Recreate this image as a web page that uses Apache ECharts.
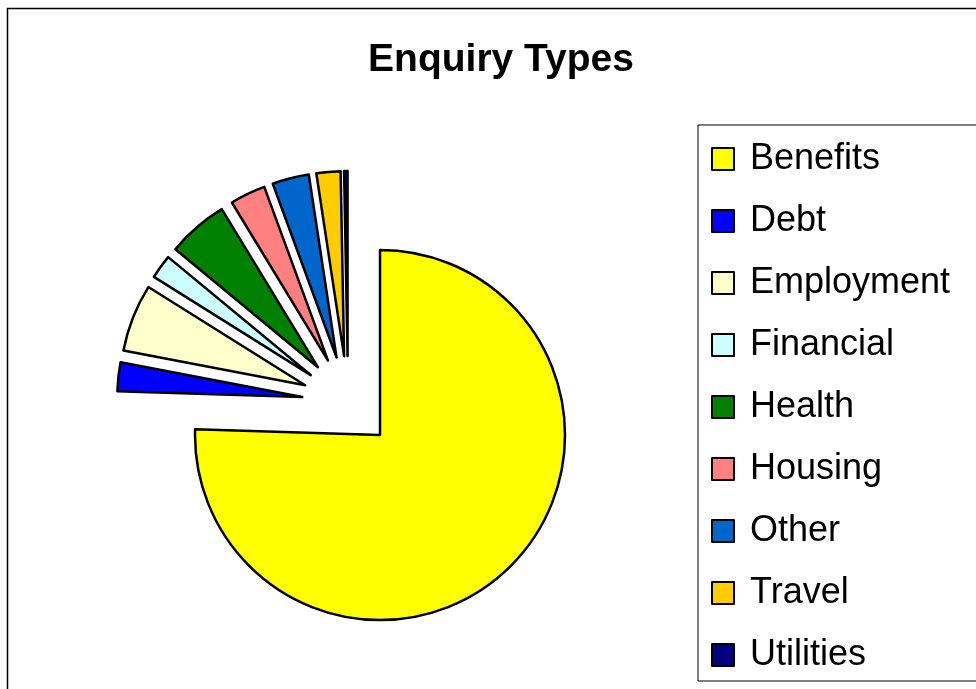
<!DOCTYPE html>
<html>
<head>
<meta charset="utf-8">
<title>Enquiry Types</title>
<script src="https://cdn.jsdelivr.net/npm/echarts@6/dist/echarts.min.js"></script>
<style>
  html, body { margin: 0; padding: 0; background: #fff; }
  #chart { width: 976px; height: 689px; }
</style>
</head>
<body>
<div id="chart"></div>
<script>
// enquiry counts per type
const categories = ['Benefits', 'Debt', 'Employment', 'Financial', 'Health', 'Housing', 'Other', 'Travel', 'Utilities']
const counts = [755, 25, 59, 21, 53, 31, 32, 21, 3]
const colors = ['#ffff00', '#0000ff', '#ffffcc', '#ccffff', '#008000', '#ff8080', '#0066cc', '#ffcc00', '#000080']

const fontFamily = 'Arial, "Liberation Sans", sans-serif'

const chart = echarts.init(document.getElementById('chart'))

const option = {
  animation: false,
  backgroundColor: '#fff',
  color: colors,
  title: {
    text: 'Enquiry Types',
    left: 501,
    top: 41,
    padding: 0,
    textAlign: 'center',
    textStyle: {
      fontFamily,
      fontSize: 39,
      fontWeight: 'bold',
      color: '#000'
    }
  },
  legend: {
    orient: 'vertical',
    left: 698,
    top: 125,
    padding: [14, 60, 6, 13],
    itemGap: 22,
    itemWidth: 22,
    itemHeight: 22,
    icon: 'rect',
    selectedMode: false,
    backgroundColor: '#fff',
    borderColor: '#000',
    borderWidth: 1,
    data: categories,
    textStyle: {
      fontFamily,
      fontSize: 36,
      lineHeight: 40,
      color: '#000',
      padding: [0, 0, 0, 11]
    }
  },
  graphic: [{
    type: 'rect',
    z: -10,
    silent: true,
    shape: { x: 7.5, y: 8.5, width: 1100, height: 800 },
    style: { fill: 'none', stroke: '#000', lineWidth: 1.5 }
  }],
  series: [{
    name: 'Enquiry Types',
    type: 'pie',
    center: [348, 402],
    radius: 185,
    startAngle: 90,
    clockwise: true,
    selectedMode: 'multiple',
    selectedOffset: 46,
    avoidLabelOverlap: false,
    label: { show: false },
    labelLine: { show: false },
    emphasis: { scale: false },
    itemStyle: {
      borderColor: '#000',
      borderWidth: 2.5
    },
    data: categories.map((name, i) => ({
      name,
      value: counts[i],
      selected: true
    }))
  }]
}

chart.setOption(option)
</script>
</body>
</html>
